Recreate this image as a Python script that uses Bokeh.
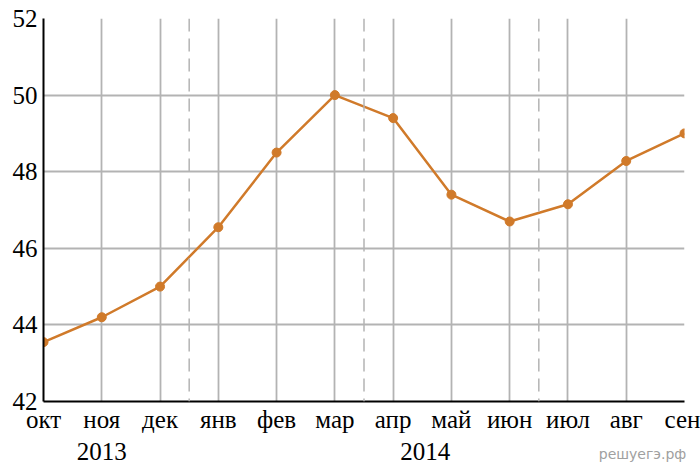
from bokeh.plotting import figure
from bokeh.models import Range1d, FixedTicker, Span, LinearAxis
from bokeh.embed import file_html
from bokeh.resources import INLINE

months = ["окт", "ноя", "дек", "янв", "фев", "мар", "апр", "май", "июн", "июл", "авг", "сен"]
values = [43.55, 44.2, 45.0, 46.55, 48.5, 50.0, 49.4, 47.4, 46.7, 47.15, 48.28, 49.0]
y_ticks = [42, 44, 46, 48, 50, 52]
year_breaks = [2.5, 5.5, 8.5]
years = ["2013", "2014"]
year_pos = [1.0, 6.55]
watermark = "решуегэ.рф"
watermark_pos = 10.28

xs = list(range(len(months)))

p = figure(width=700, height=464, output_backend="svg", toolbar_location=None,
           x_range=Range1d(0, 11), y_range=Range1d(42, 52),
           min_border_left=43, min_border_right=16, min_border_top=18, min_border_bottom=62)
p.outline_line_color = None
p.background_fill_color = "white"

FONT = "Liberation Serif"

p.xaxis.ticker = FixedTicker(ticks=xs)
p.xaxis.major_label_overrides = {i: m for i, m in enumerate(months)}
p.yaxis.ticker = FixedTicker(ticks=y_ticks)

year_axis = LinearAxis(ticker=FixedTicker(ticks=year_pos),
                       major_label_overrides={xp: yr for xp, yr in zip(year_pos, years)})
p.add_layout(year_axis, "below")
wm_axis = LinearAxis(ticker=FixedTicker(ticks=[watermark_pos]),
                     major_label_overrides={watermark_pos: watermark})
p.add_layout(wm_axis, "below")

for ax in (p.xaxis[0], p.yaxis[0], year_axis, wm_axis):
    ax.axis_line_color = "black"
    ax.axis_line_width = 2
    ax.major_tick_line_color = None
    ax.minor_tick_line_color = None
    ax.major_tick_out = 0
    ax.major_tick_in = 0
    ax.minor_tick_out = 0
    ax.major_label_text_font = FONT
    ax.major_label_text_font_size = "25px"
    ax.major_label_text_color = "black"
year_axis.axis_line_color = None
wm_axis.axis_line_color = None
wm_axis.major_label_text_font = "DejaVu Sans"
wm_axis.major_label_text_font_size = "14px"
wm_axis.major_label_text_color = "#a0a0a0"
p.yaxis.major_label_standoff = 6
p.xaxis[0].major_label_standoff = 4
year_axis.major_label_standoff = 7
wm_axis.major_label_standoff = -17

p.xgrid.grid_line_color = "#b3b3b3"
p.xgrid.grid_line_width = 1.8
p.ygrid.grid_line_color = "#b3b3b3"
p.ygrid.grid_line_width = 1.8

for b in year_breaks:
    p.add_layout(Span(location=b, dimension="height", line_color="#b3b3b3",
                      line_width=1.5, line_dash="13 7"))

p.line(xs, values, line_color="#D07A2A", line_width=2.5)
p.scatter(xs, values, size=9, fill_color="#D07A2A", line_color="#D07A2A")

open("out.html", "w").write(file_html(p, INLINE))
